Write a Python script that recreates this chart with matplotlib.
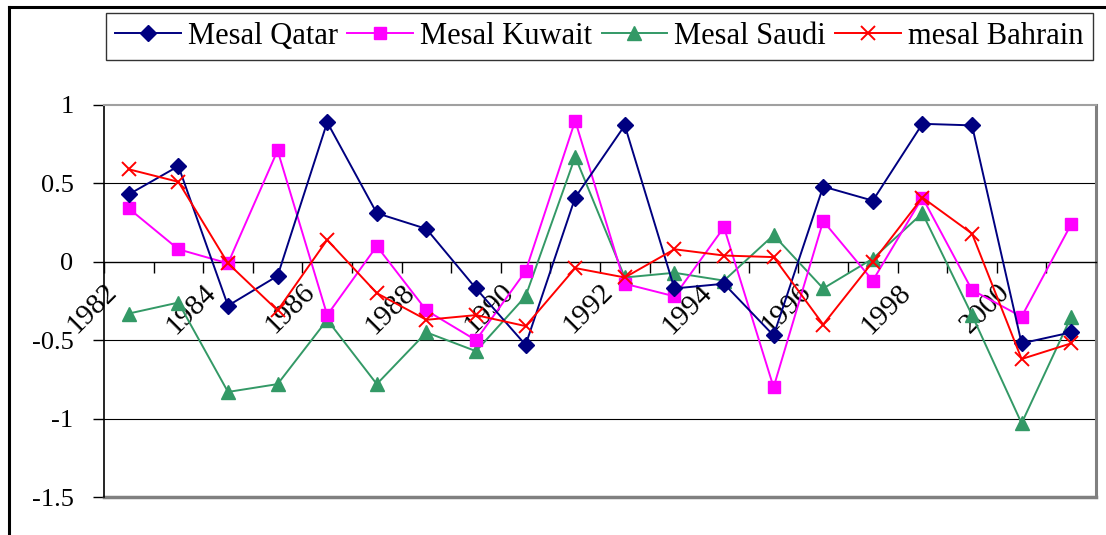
import matplotlib
matplotlib.use("Agg")
import matplotlib.pyplot as plt
from matplotlib.lines import Line2D
from matplotlib.transforms import ScaledTranslation

plt.rcParams['font.family'] = ['Liberation Serif', 'DejaVu Serif']
plt.rcParams['axes.unicode_minus'] = False

years = [str(y) for y in range(1982, 2002)]
qatar = [0.43, 0.61, -0.28, -0.09, 0.89, 0.31, 0.21, -0.17, -0.53, 0.41,
         0.87, -0.17, -0.14, -0.47, 0.48, 0.39, 0.88, 0.87, -0.52, -0.45]
kuwait = [0.34, 0.08, -0.01, 0.71, -0.34, 0.10, -0.31, -0.50, -0.06, 0.90,
          -0.14, -0.22, 0.22, -0.80, 0.26, -0.12, 0.41, -0.18, -0.35, 0.24]
saudi = [-0.33, -0.26, -0.83, -0.78, -0.37, -0.78, -0.45, -0.57, -0.22, 0.67,
         -0.10, -0.07, -0.12, 0.17, -0.17, 0.02, 0.31, -0.34, -1.03, -0.35]
bahrain = [0.59, 0.51, -0.01, -0.31, 0.14, -0.20, -0.37, -0.34, -0.41, -0.04,
           -0.10, 0.08, 0.04, 0.03, -0.40, -0.00, 0.41, 0.18, -0.62, -0.52]
series_names = ['Mesal Qatar', 'Mesal Kuwait', 'Mesal Saudi', 'mesal Bahrain']
yticks = [1, 0.5, 0, -0.5, -1, -1.5]
ytick_labels = ['1', '0.5', '0', '-0.5', '-1', '-1.5']

W, H = 1106, 535
fig = plt.figure(figsize=(W / 100, H / 100), dpi=100)
ax = fig.add_axes([104 / W, 1 - 497 / H, (1096 - 104) / W, (497 - 105) / H])

x = list(range(len(years)))
ax.plot(x, qatar, color='#000080', lw=1.4, marker='D', ms=8.5, label=series_names[0], zorder=5)
ax.plot(x, kuwait, color='#FF00FF', lw=1.4, marker='s', ms=8, label=series_names[1], zorder=4)
ax.plot(x, saudi, color='#339966', lw=1.4, marker='^', ms=9.5, label=series_names[2], zorder=3)
ax.plot(x, bahrain, color='#FF0000', lw=1.4, marker='x', ms=10, mew=1.4, label=series_names[3], zorder=6)

ax.set_xlim(-0.5, len(years) - 0.5)
ax.set_ylim(-1.5, 1)

# gridlines
for g in [0.5, -0.5, -1]:
    ax.axhline(g, color='black', lw=0.8, zorder=1)

# spines
ax.spines['bottom'].set_position(('data', 0))
ax.spines['bottom'].set_color('black')
ax.spines['bottom'].set_linewidth(1.0)
ax.spines['left'].set_color('black')
ax.spines['left'].set_linewidth(1.2)
ax.spines['top'].set_color('#a0a0a0')
ax.spines['top'].set_linewidth(1.5)
ax.spines['right'].set_color('#808080')
ax.spines['right'].set_linewidth(2.2)
ax.axhline(-1.5, color='#808080', lw=2.5, clip_on=False, zorder=2)

ax.set_yticks(yticks)
ax.set_yticklabels(ytick_labels, fontsize=19)
ax.tick_params(axis='y', direction='out', length=8, width=1, pad=14)

ax.set_xticks([i - 0.5 for i in range(len(years) + 1)])
ax.set_xticklabels([])
ax.tick_params(axis='x', which='major', direction='out', length=8, width=1)
ax.set_xticks(x, minor=True)
ax.set_xticklabels([y if i % 2 == 0 else '' for i, y in enumerate(years)], minor=True,
                   fontsize=21, rotation=45, ha='right', va='center',
                   rotation_mode='anchor')
ax.tick_params(axis='x', which='minor', length=0, pad=19)
shift = ScaledTranslation(-16 / 100, 0, fig.dpi_scale_trans)
for lab in ax.get_xticklabels(minor=True):
    lab.set_transform(lab.get_transform() + shift)

leg = fig.legend(loc='upper left', bbox_to_anchor=(106 / W, 1 - 13 / H), ncol=4,
                 fontsize=22, frameon=True, fancybox=False, edgecolor='black',
                 borderaxespad=0, borderpad=0.3, handlelength=2.15, handletextpad=0.22,
                 columnspacing=0.32)
leg.get_frame().set_linewidth(1.0)

# chart area border (left and top)
fig.add_artist(Line2D([9 / W, 9 / W], [0, 1 - 7 / H], color='black', lw=2.2))
fig.add_artist(Line2D([9 / W, 1], [1 - 7 / H, 1 - 7 / H], color='black', lw=2.2))

fig.savefig('out.png', dpi=100, facecolor='white')
